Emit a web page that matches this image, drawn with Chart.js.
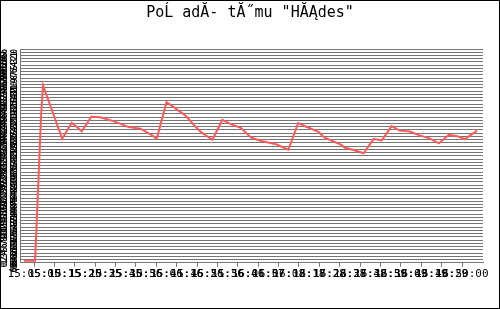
<!DOCTYPE html>
<html>
<head>
<meta charset="utf-8">
<script src="https://cdn.jsdelivr.net/npm/chart.js@4/dist/chart.umd.min.js"></script>
<style>
  body { margin: 0; background: #fff; }
  #box { width: 500px; height: 309px; box-sizing: border-box; border: 1px solid #000; }
  canvas { display: block; }
</style>
</head>
<body>
<div id="box"><canvas id="rankChart" width="498" height="307"></canvas></div>
<script>
// minutes after 15:00
var times = [2.5, 5.25, 5.75, 6.75, 7.2, 11.9, 14.25, 16.7, 19.05, 21.3, 25.0, 28.2, 31.1, 33.8, 35.1,
  37.5, 41.0, 42.2, 44.7, 45.9, 47.15, 48.75, 51.2, 53.3, 55.8, 58.2, 60.7, 64.4, 67.4, 69.8, 71.8,
  74.8, 76.2, 80.4, 81.2, 83.4, 85.85, 88.3, 90.3, 92.75, 94.7, 97.2, 99.4, 101.9, 104.3, 106.8,
  108.8, 110.7, 113.7];
var score = [0.66, 0.66, 15.8, 46.1, 54.8, 38.3, 43.2, 40.6, 45.1, 44.9, 43.5, 41.9, 41.4, 39.5, 38.3,
  49.6, 46.5, 45.4, 41.9, 40.4, 39.3, 38.0, 44.1, 42.8, 41.6, 38.7, 37.6, 36.6, 34.9, 43.1, 42.0,
  40.4, 38.7, 36.4, 35.6, 34.8, 33.8, 38.2, 37.8, 42.2, 40.8, 40.5, 39.4, 38.5, 36.9, 39.5,
  39.1, 38.2, 40.8];

var tickMinutes = [5, 10, 15, 20, 25, 30, 35, 40, 45, 50, 55, 60, 65, 70, 75, 80, 85, 90, 95, 100, 105, 110];
var tickLabels = ['15:05:05', '15:10:15', '15:15:25', '15:20:35', '15:25:45', '15:30:56', '15:36:06',
  '15:41:16', '15:46:26', '15:51:36', '15:56:46', '16:01:57', '16:07:08', '16:12:18', '16:17:28',
  '16:22:38', '16:27:48', '16:32:59', '16:38:09', '16:43:19', '16:48:29', '16:50:00'];

var title = 'Po\u0139 ad\u0102- t\u0102\u02DDmu "H\u0102\u0104des"';

var points = times.map(function (t, i) { return { x: t, y: score[i] }; });

var ctx = document.getElementById("rankChart").getContext("2d");
new Chart(ctx, {
  type: 'line',
  data: {
    datasets: [{
      data: points,
      borderColor: '#ff5a5a',
      borderWidth: 2,
      pointRadius: 0,
      tension: 0,
      fill: false
    }]
  },
  options: {
    responsive: false,
    animation: false,
    layout: { padding: { left: 0, right: 0, bottom: 26 } },
    plugins: {
      legend: { display: false },
      tooltip: { enabled: false },
      title: {
        display: true,
        text: title,
        color: '#000',
        font: { family: 'DejaVu Sans Mono', size: 15, weight: 'normal' },
        padding: { top: 3, bottom: 27 }
      }
    },
    scales: {
      x: {
        type: 'linear',
        min: 1.55,
        max: 115.15,
        afterBuildTicks: function (axis) {
          axis.ticks = tickMinutes.map(function (v) { return { value: v }; });
        },
        grid: { drawOnChartArea: false, color: '#777', tickLength: 4 },
        border: { color: '#777' },
        ticks: {
          autoSkip: false,
          maxRotation: 0,
          minRotation: 0,
          padding: 1,
          color: '#000',
          font: { family: 'DejaVu Sans Mono', size: 11 },
          callback: function (v, i) { return tickLabels[i]; }
        }
      },
      y: {
        min: 0,
        max: 66,
        afterFit: function (axis) { axis.width = 19; },
        grid: { color: '#777', lineWidth: 1, drawTicks: false },
        border: { color: '#777' },
        ticks: {
          stepSize: 1,
          autoSkip: false,
          minRotation: 90,
          maxRotation: 90,
          padding: 10,
          color: '#000',
          font: { family: 'DejaVu Sans Mono', size: 8, weight: 'bold' },
          callback: function (v) { return [String(v), String(66 - v)]; }
        }
      },
      // empty right margin so the title stays centred on the page
      yRight: {
        position: 'right',
        min: 0,
        max: 66,
        afterFit: function (axis) { axis.width = 16; },
        grid: { display: false },
        border: { display: false },
        ticks: { display: false }
      }
    }
  }
});
</script>
</body>
</html>
